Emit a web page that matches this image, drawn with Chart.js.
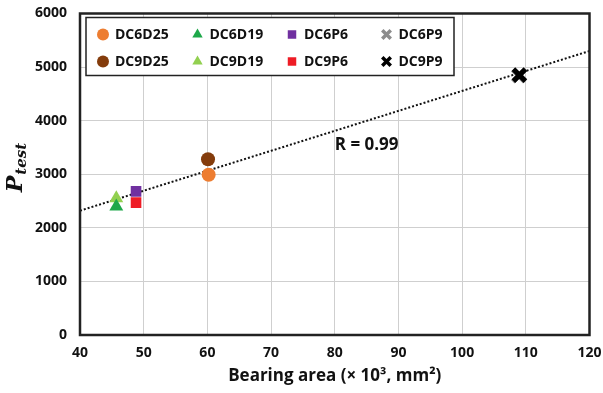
<!DOCTYPE html>
<html>
<head>
<meta charset="utf-8">
<script src="https://cdn.jsdelivr.net/npm/chart.js@4"></script>
<style>
  html, body { margin: 0; padding: 0; background: #fff; }
  canvas { display: block; }
</style>
</head>
<body>
<canvas id="bearingChart" width="603" height="393"></canvas>
<script>
// specimens: bearing area (x10^3 mm2) vs. test load
const specimens = ["DC6D25", "DC6D19", "DC6P6", "DC6P9", "DC9D25", "DC9D19", "DC9P6", "DC9P9"];
const bearingArea = [60.2, 45.7, 48.8, 108.9, 60.1, 45.7, 48.8, 109.0];
const pTest = [2990, 2400, 2680, 4840, 3280, 2550, 2470, 4850];
const markerStyle = ["circle", "triangle", "rect", "crossRot", "circle", "triangle", "rect", "crossRot"];
const markerColor = ["#ED7D31", "#1EA84A", "#7030A0", "#8C8C8C", "#843C0C", "#92D050", "#EE1C25", "#000000"];

// fitted trend line (R = 0.99)
const trendX = [40, 120];
const trendY = [2320, 5300];

const xTicks = [40, 50, 60, 70, 80, 90, 100, 110, 120];
const yTicks = [0, 1000, 2000, 3000, 4000, 5000, 6000];

const boldFont = "'Open Sans', 'Noto Sans', sans-serif";

function markerSize(style) {
  if (style === "crossRot") return 8.5;
  if (style === "rect") return 7.5;
  if (style === "triangle") return 8;
  return 7;
}

const datasets = specimens.map((name, i) => ({
  label: name,
  data: [{ x: bearingArea[i], y: pTest[i] }],
  pointStyle: markerStyle[i],
  pointRadius: markerSize(markerStyle[i]),
  backgroundColor: markerColor[i],
  borderColor: markerColor[i],
  borderWidth: markerStyle[i] === "crossRot" ? 5 : 0,
  // the black cross sits on top of the grey one
  order: name === "DC9P9" ? 0 : 1
}));

datasets.push({
  label: "trend",
  type: "line",
  data: trendX.map((x, i) => ({ x: x, y: trendY[i] })),
  borderColor: "#111",
  borderWidth: 2,
  borderDash: [2, 2],
  pointRadius: 0,
  fill: false,
  order: 2
});

// frame around the plot area
const framePlugin = {
  id: "plotFrame",
  afterDatasetsDraw(chart) {
    const { ctx, chartArea: a } = chart;
    ctx.save();
    ctx.strokeStyle = "#222";
    ctx.lineWidth = 2.5;
    ctx.setLineDash([]);
    ctx.strokeRect(a.left, a.top, a.right - a.left, a.bottom - a.top);
    ctx.restore();
  }
};

// boxed legend in the upper left corner, 4 columns x 2 rows
const boxLegend = {
  id: "boxLegend",
  afterDraw(chart) {
    const { ctx, chartArea: a } = chart;
    const left = a.left + 6, top = a.top + 4, w = 368, h = 58;
    ctx.save();
    ctx.fillStyle = "#fff";
    ctx.fillRect(left, top, w, h);
    ctx.strokeStyle = "#222";
    ctx.lineWidth = 1.5;
    ctx.strokeRect(left, top, w, h);
    ctx.font = "bold 14px " + boldFont;
    ctx.textBaseline = "middle";
    specimens.forEach((name, i) => {
      const col = i % 4, row = Math.floor(i / 4);
      const mx = left + 17 + col * 94.5;
      const my = top + 17 + row * 27;
      const st = markerStyle[i];
      ctx.fillStyle = markerColor[i];
      ctx.strokeStyle = markerColor[i];
      ctx.lineWidth = 3.5;
      Chart.helpers.drawPoint(ctx, {
        pointStyle: st,
        radius: 6,
        rotation: 0,
        borderWidth: st === "crossRot" ? 3.5 : 0
      }, mx, my);
      ctx.fillStyle = "#111";
      ctx.textAlign = "left";
      ctx.fillText(name, mx + 12, my + 1);
    });
    ctx.restore();
  }
};

// correlation note and the P_test axis title
const notes = {
  id: "notes",
  afterDraw(chart) {
    const { ctx, scales } = chart;
    ctx.save();
    ctx.fillStyle = "#111";
    ctx.font = "bold 17px " + boldFont;
    ctx.textBaseline = "middle";
    ctx.textAlign = "left";
    ctx.fillText("R = 0.99", scales.x.getPixelForValue(80), scales.y.getPixelForValue(3540));

    ctx.translate(22, 168);
    ctx.rotate(-Math.PI / 2);
    ctx.font = "italic bold 22px 'DejaVu Serif', serif";
    const pw = ctx.measureText("P").width;
    ctx.font = "italic bold 15px 'DejaVu Serif', serif";
    const sw = ctx.measureText("test").width;
    const start = -(pw + sw) / 2;
    ctx.textAlign = "left";
    ctx.textBaseline = "alphabetic";
    ctx.font = "italic bold 22px 'DejaVu Serif', serif";
    ctx.fillText("P", start, 0);
    ctx.font = "italic bold 15px 'DejaVu Serif', serif";
    ctx.fillText("test", start + pw + 1, 4);
    ctx.restore();
  }
};

new Chart(document.getElementById("bearingChart"), {
  type: "scatter",
  data: { datasets: datasets },
  options: {
    responsive: false,
    animation: false,
    layout: { padding: { top: 10, right: 13, left: 0, bottom: 0 } },
    plugins: {
      legend: { display: false },
      tooltip: { enabled: false }
    },
    scales: {
      x: {
        type: "linear",
        min: 40,
        max: 120,
        afterBuildTicks(axis) { axis.ticks = xTicks.map(v => ({ value: v })); },
        afterFit(axis) {
          axis.height = 58;
          axis.paddingLeft = 0;
          axis.paddingRight = 0;
        },
        grid: { color: "#cfcfcf", lineWidth: 1, tickLength: 0 },
        border: { display: false },
        ticks: {
          color: "#111",
          padding: 10,
          maxRotation: 0,
          font: { family: boldFont, size: 14, weight: "bold" }
        },
        title: {
          display: true,
          text: "Bearing area (\u00d7 10\u00b3, mm\u00b2)",
          color: "#111",
          padding: { top: 0, bottom: 7 },
          font: { family: boldFont, size: 17, weight: "bold" }
        }
      },
      y: {
        type: "linear",
        min: 0,
        max: 6000,
        afterBuildTicks(axis) { axis.ticks = yTicks.map(v => ({ value: v })); },
        afterFit(axis) {
          axis.width = 80;
          axis.paddingTop = 0;
          axis.paddingBottom = 0;
        },
        grid: { color: "#cfcfcf", lineWidth: 1, tickLength: 0 },
        border: { display: false },
        ticks: {
          color: "#111",
          padding: 13,
          callback: v => String(v),
          font: { family: boldFont, size: 14, weight: "bold" }
        }
      }
    }
  },
  plugins: [framePlugin, boxLegend, notes]
});
</script>
</body>
</html>
